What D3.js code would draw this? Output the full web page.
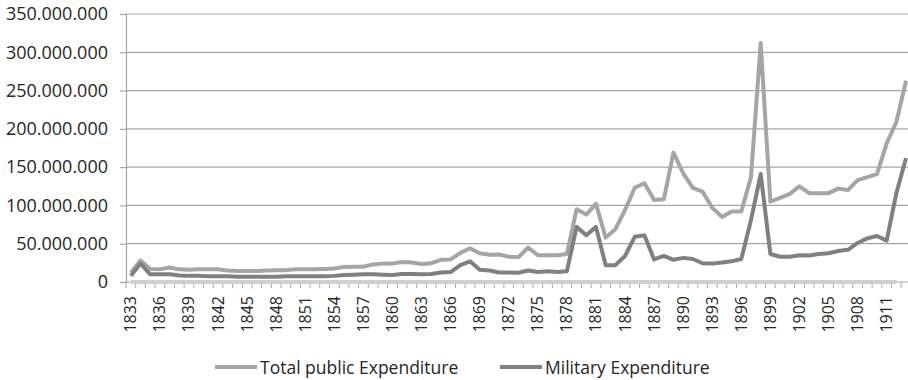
<!DOCTYPE html>
<html>
<head>
<meta charset="utf-8">
<script src="https://cdn.jsdelivr.net/npm/d3@7"></script>
<style>
  html, body { margin: 0; padding: 0; background: #fff; }
  svg { display: block; }
  text { font-family: "Open Sans", sans-serif; fill: #262626; }
</style>
</head>
<body>
<div id="chart"></div>
<script>
const years = [1833,1834,1835,1836,1837,1838,1839,1840,1841,1842,1843,1844,1845,1846,1847,1848,1849,1850,
  1851,1852,1853,1854,1855,1856,1857,1858,1859,1860,1861,1862,1863,1864,1865,1866,1867,1868,1869,1870,
  1871,1872,1873,1874,1875,1876,1877,1878,1879,1880,1881,1882,1883,1884,1885,1886,1887,1888,1889,1890,
  1891,1892,1893,1894,1895,1896,1897,1898,1899,1900,1901,1902,1903,1904,1905,1906,1907,1908,1909,1910,
  1911,1912,1913];
const tickYears = [1833,1836,1839,1842,1845,1848,1851,1854,1857,1860,1863,1866,1869,1872,1875,1878,1881,
  1884,1887,1890,1893,1896,1899,1902,1905,1908,1911];
const yTicks = [0,50000000,100000000,150000000,200000000,250000000,300000000,350000000];
// values in millions
const totalExp = [12,28,17,16.5,19,16.5,16,16.5,16.5,16.5,15,14.5,14.5,14.5,15,15.5,15.5,16.5,
  16.5,16.5,17,17.5,19.5,20,20,23,24,24,26,25.5,23.5,24.5,29,29.5,38,44,37.5,35.5,
  36,33,32.5,45,35,35,35,36.5,95,88,102,58,69,94,123,129,107,108,169,142,
  123,118,97,85,92,92,137,312,105,110,115,125,116,116,116,122,120,133,137,141,
  181,209,263];
const militaryExp = [8,24,10,10,10,8.5,8,8,7.5,7.5,7.5,7,7,7,7,7,7.5,7.5,
  7.5,7.5,7.5,8,9,9.5,10,10,9.5,9,10.5,10.5,10,10.5,12.5,13,22,27,16,15,
  12.5,12.5,12,15,13,14,13,14,72,61,72,22,22,34,59,61,29.5,34,29,31.5,
  30,24.5,24,25.5,27,30,81,141,36.5,33,33,35,34.5,36.5,37.5,40.5,42,51,57,60,
  54,116,162];
const baselineSeries = [0,0,0,0,0,0,0,0,0,0,0,0,0,0,0,0,0,0,0,0,0,0,0,0,0,0,0,0,0,0,0,0,0,0,0,0,0,0,0,0,
  0,0,0,0,0,0,0,0,0,0,0,0,0,0,0,0,0,0,0,0,0,0,0,0,0,0,0,0,0,0,0,0,0,0,0,0,0,0,0,0];
const seriesNames = ["Total public Expenditure", "Military Expenditure"];

const W = 908, H = 380;
const mLeft = 126, mTop = 14, mBottom = 282;
const bandW = 9.69;

const svg = d3.select("#chart").append("svg").attr("width", W).attr("height", H);

const x = d3.scaleBand().domain(years).range([mLeft, mLeft + bandW * years.length]).paddingInner(0).paddingOuter(0);
const y = d3.scaleLinear().domain([0, 350000000]).range([mBottom, mTop]);
const cx = yr => x(yr) + x.bandwidth() / 2;

// gridlines
svg.append("g").selectAll("line").data(yTicks.slice(1)).join("line")
  .attr("x1", mLeft).attr("x2", W).attr("y1", d => y(d)).attr("y2", d => y(d))
  .attr("stroke", "#a6a6a6").attr("stroke-width", 1.2);

// y axis
const fmt = d => d === 0 ? "0" : d3.format(",")(d).replace(/,/g, ".");
const yAxis = d3.axisLeft(y).tickValues(yTicks).tickFormat(fmt).tickSize(6).tickPadding(12);
const gy = svg.append("g").attr("transform", `translate(${mLeft},0)`).call(yAxis);
gy.select(".domain").attr("stroke", "#a6a6a6").attr("stroke-width", 1.2);
gy.selectAll(".tick line").attr("stroke", "#a6a6a6").attr("stroke-width", 1.2);
gy.selectAll(".tick text").attr("font-size", 18).attr("font-family", "Open Sans").attr("fill", "#262626");

// x axis (category boundaries as ticks)
const gx = svg.append("g");
gx.append("line").attr("x1", mLeft).attr("x2", W).attr("y1", mBottom).attr("y2", mBottom)
  .attr("stroke", "#a6a6a6").attr("stroke-width", 1.2);
gx.selectAll("line.tk").data(years).join("line").attr("class", "tk")
  .attr("x1", d => x(d)).attr("x2", d => x(d)).attr("y1", mBottom).attr("y2", mBottom + 6)
  .attr("stroke", "#a6a6a6").attr("stroke-width", 1);
gx.selectAll("text").data(tickYears).join("text")
  .attr("transform", d => `translate(${cx(d) + 5.5},296) rotate(-90)`)
  .attr("text-anchor", "end").attr("font-size", 16).text(d => d);

// lines
const line = d3.line().x((d, i) => cx(years[i])).y(d => y(d * 1e6));
svg.append("path").datum(baselineSeries).attr("d", line)
  .attr("fill", "none").attr("stroke", "#cfcfcf").attr("stroke-width", 4).attr("stroke-linejoin", "round");
svg.append("path").datum(totalExp).attr("d", line)
  .attr("fill", "none").attr("stroke", "#a5a5a5").attr("stroke-width", 4).attr("stroke-linejoin", "round");
svg.append("path").datum(militaryExp).attr("d", line)
  .attr("fill", "none").attr("stroke", "#808080").attr("stroke-width", 4).attr("stroke-linejoin", "round");

// legend
const legend = [
  { name: seriesNames[0], color: "#a5a5a5", x: 215 },
  { name: seriesNames[1], color: "#808080", x: 500 }
];
const lg = svg.append("g");
legend.forEach(l => {
  lg.append("line").attr("x1", l.x).attr("x2", l.x + 42).attr("y1", 367).attr("y2", 367)
    .attr("stroke", l.color).attr("stroke-width", 4);
  lg.append("text").attr("x", l.x + 45).attr("y", 373.5).attr("font-size", 17.5).text(l.name);
});
</script>
</body>
</html>
